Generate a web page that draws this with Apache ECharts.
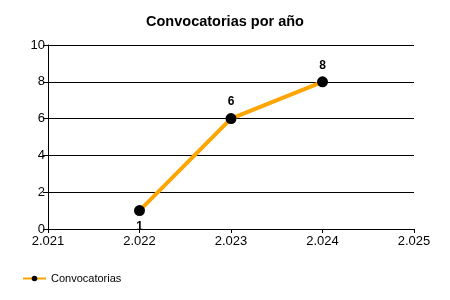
<!DOCTYPE html>
<html><head><meta charset="utf-8">
<script src="https://cdn.jsdelivr.net/npm/echarts@6/dist/echarts.min.js"></script>
<style>html,body{margin:0;padding:0;background:#fff}#c{width:450px;height:300px}</style>
</head><body><div id="c"></div>
<script>
const years = [2022, 2023, 2024];
const values = [1, 6, 8];
const labelPositions = ['bottom', 'top', 'top'];
const xMin = 2021, xMax = 2025;
const yMin = 0, yMax = 10, yStep = 2;

const chart = echarts.init(document.getElementById('c'), null, {renderer: 'canvas'});
const fmtThousands = v => {
  const s = String(Math.round(v));
  return s.replace(/\B(?=(\d{3})+(?!\d))/g, '.');
};
const font = 'Liberation Sans, Arial, sans-serif';
chart.setOption({
  animation: false,
  title: {text: 'Convocatorias por año', left: 'center', top: 9,
    textStyle: {fontFamily: font, fontSize: 14.5, fontWeight: 'bold', color: '#000'}},
  grid: {left: 48, right: 36, top: 45, bottom: 71, containLabel: false},
  legend: {left: 22, top: 273, padding: 0, itemWidth: 23, itemHeight: 7, itemGap: 5,
    textStyle: {fontFamily: font, fontSize: 11, color: '#000', padding: [0, 0, 0, 0]},
    data: ['Convocatorias']},
  xAxis: {type: 'value', min: xMin, max: xMax, interval: 1,
    axisLine: {onZero: false, lineStyle: {color: '#000', width: 1}},
    axisTick: {show: true, length: 4, lineStyle: {color: '#000'}},
    splitLine: {show: false},
    axisLabel: {formatter: fmtThousands, color: '#000', fontFamily: font, fontSize: 13, margin: 6}},
  yAxis: {type: 'value', min: yMin, max: yMax, interval: yStep,
    axisLine: {show: true, lineStyle: {color: '#000', width: 1}},
    axisTick: {show: true, length: 5, lineStyle: {color: '#000'}},
    splitLine: {show: true, lineStyle: {color: '#000', width: 1}},
    axisLabel: {color: '#000', fontFamily: font, fontSize: 13, margin: 3}},
  series: [{
    name: 'Convocatorias', type: 'line',
    data: years.map((y, i) => ({value: [y, values[i]], label: {position: labelPositions[i]}})),
    symbol: 'circle', symbolSize: 11,
    itemStyle: {color: '#000'},
    lineStyle: {color: '#FFA500', width: 4},
    label: {show: true, distance: 5, color: '#000', fontFamily: font, fontSize: 12, fontWeight: 'bold',
      formatter: p => p.value[1]}
  }]
});
</script></body></html>
